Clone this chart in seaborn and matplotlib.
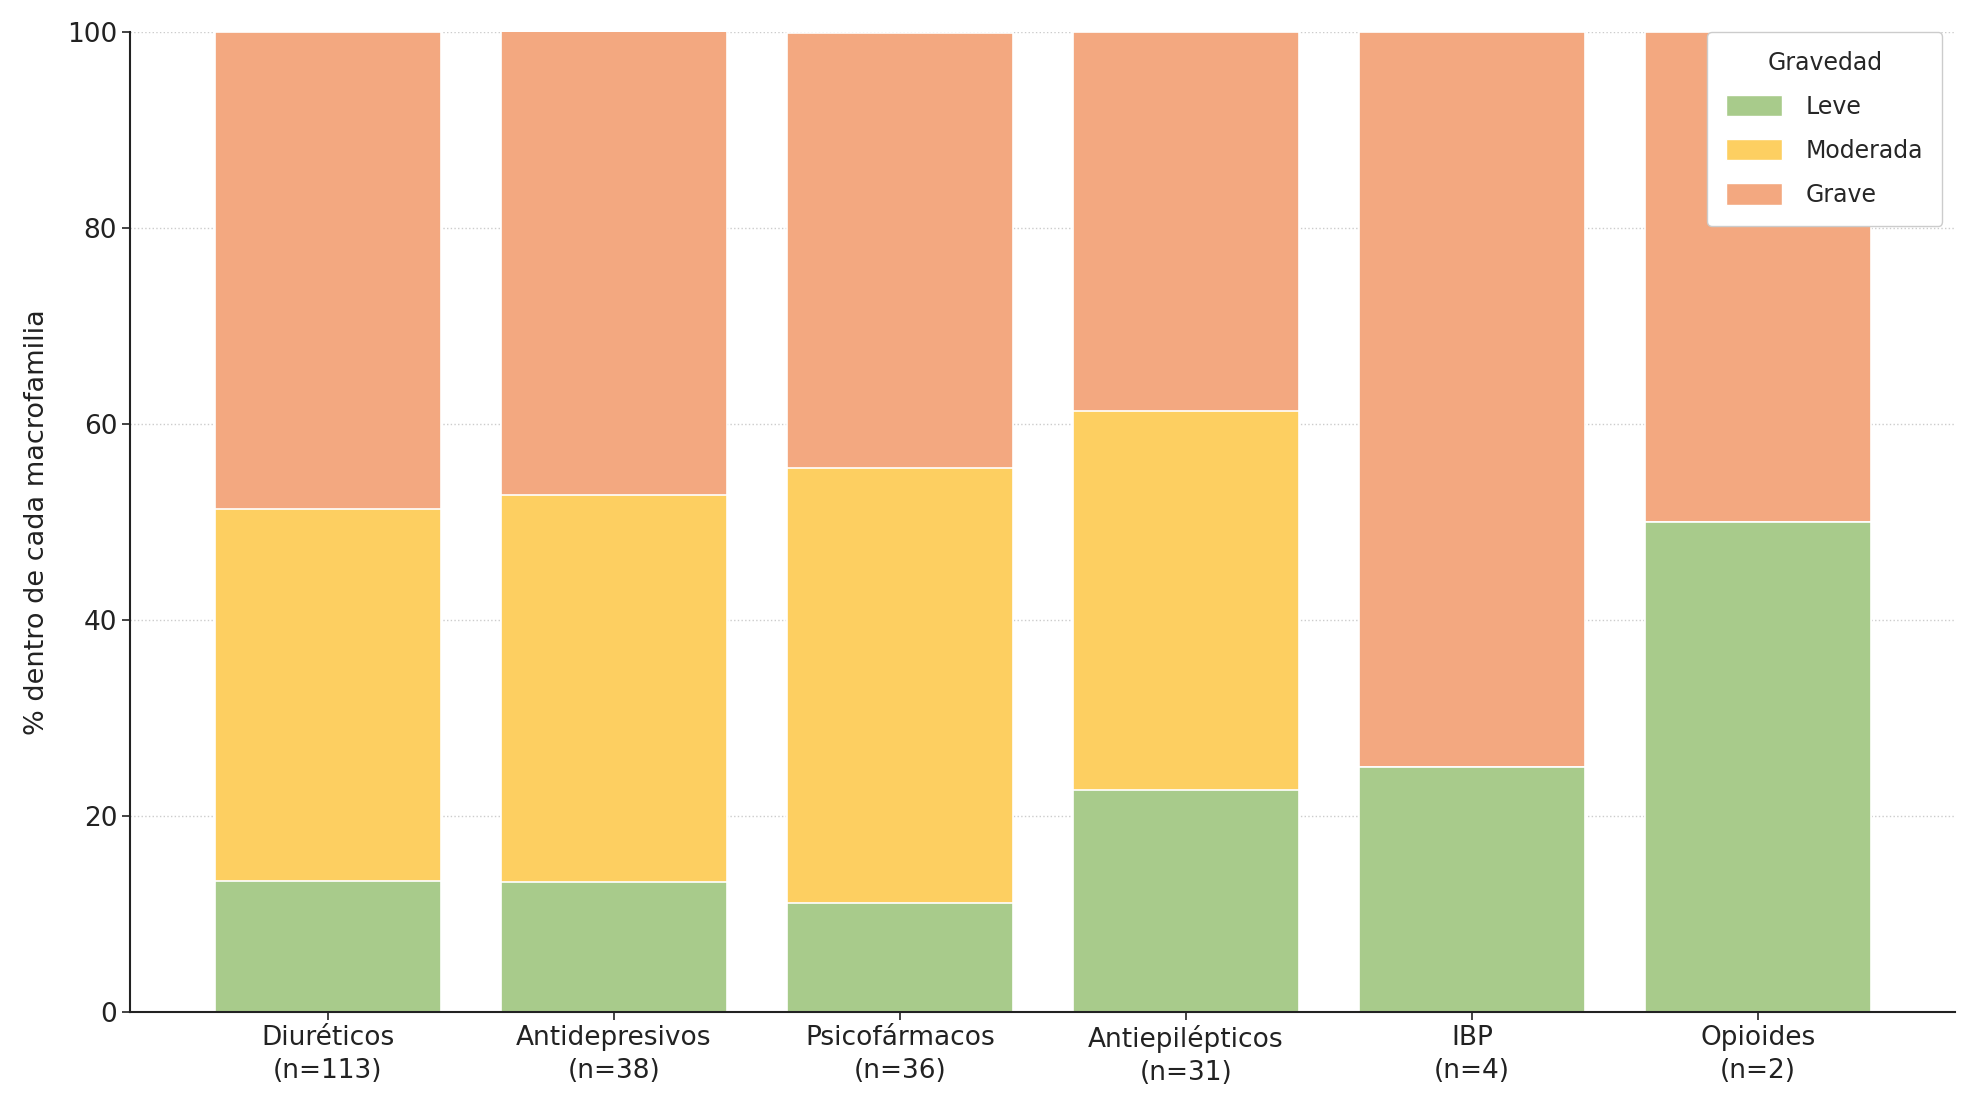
import numpy as np
import pandas as pd
import matplotlib
matplotlib.use("Agg")
import matplotlib.pyplot as plt
import seaborn as sns
from matplotlib.patches import Patch

familias = ["Diuréticos", "Antidepresivos", "Psicofármacos", "Antiepilépticos", "IBP", "Opioides"]
n_casos = [113, 38, 36, 31, 4, 2]
leve = [13.3, 13.2, 11.1, 22.6, 25.0, 50.0]
moderada = [38.0, 39.5, 44.4, 38.7, 0.0, 0.0]
grave = [48.7, 47.4, 44.4, 38.7, 75.0, 50.0]

niveles = ["Leve", "Moderada", "Grave"]
colores = {"Leve": "#a8cb8b", "Moderada": "#fdcf61", "Grave": "#f3a880"}

sns.set_theme(style="white")
plt.rcParams['font.family'] = ['DejaVu Sans']

etiquetas = [f"{f}\n(n={n})" for f, n in zip(familias, n_casos)]
df = pd.DataFrame({"familia": etiquetas, "Leve": leve, "Moderada": moderada, "Grave": grave})
df["c_leve"] = df["Leve"]
df["c_mod"] = df["Leve"] + df["Moderada"]
df["c_grave"] = df["Leve"] + df["Moderada"] + df["Grave"]

fig, ax = plt.subplots(figsize=(19.75, 11.02), dpi=100)

for col, nivel in [("c_grave", "Grave"), ("c_mod", "Moderada"), ("c_leve", "Leve")]:
    sns.barplot(data=df, x="familia", y=col, color=colores[nivel], width=0.79,
                edgecolor="white", linewidth=1.2, saturation=1, ax=ax, order=etiquetas)

ax.set_ylim(0, 100)
ax.set_xlim(-0.69, 5.69)
ax.set_yticks([0, 20, 40, 60, 80, 100])
ax.yaxis.grid(True, linestyle=":", color="#cccccc", linewidth=1.0)
ax.set_axisbelow(True)
ax.set_xlabel("")
ax.set_ylabel("% dentro de cada macrofamilia", fontsize=19.5, color="#222222", labelpad=12)
ax.tick_params(axis="both", labelsize=19, colors="#222222", length=6, width=1.2, left=True, bottom=True)
for lbl in ax.get_xticklabels():
    lbl.set_linespacing(1.35)
for s in ["top", "right"]:
    ax.spines[s].set_visible(False)
for s in ["left", "bottom"]:
    ax.spines[s].set_color("#222222")
    ax.spines[s].set_linewidth(1.5)

handles = [Patch(facecolor=colores[n], edgecolor="white", label=n) for n in niveles]
leg = ax.legend(handles=handles, title="Gravedad", loc="upper right", fontsize=17, title_fontsize=17,
                frameon=True, framealpha=1.0, borderpad=0.8, labelspacing=0.85, handlelength=2.4,
                handleheight=1.0, handletextpad=1.0, borderaxespad=0.0, bbox_to_anchor=(0.993, 1.0))
leg.get_frame().set_edgecolor("#cccccc")
leg.get_frame().set_facecolor("white")

fig.subplots_adjust(left=0.066, right=0.99, top=0.971, bottom=0.082)
fig.savefig("out.png", dpi=100)
